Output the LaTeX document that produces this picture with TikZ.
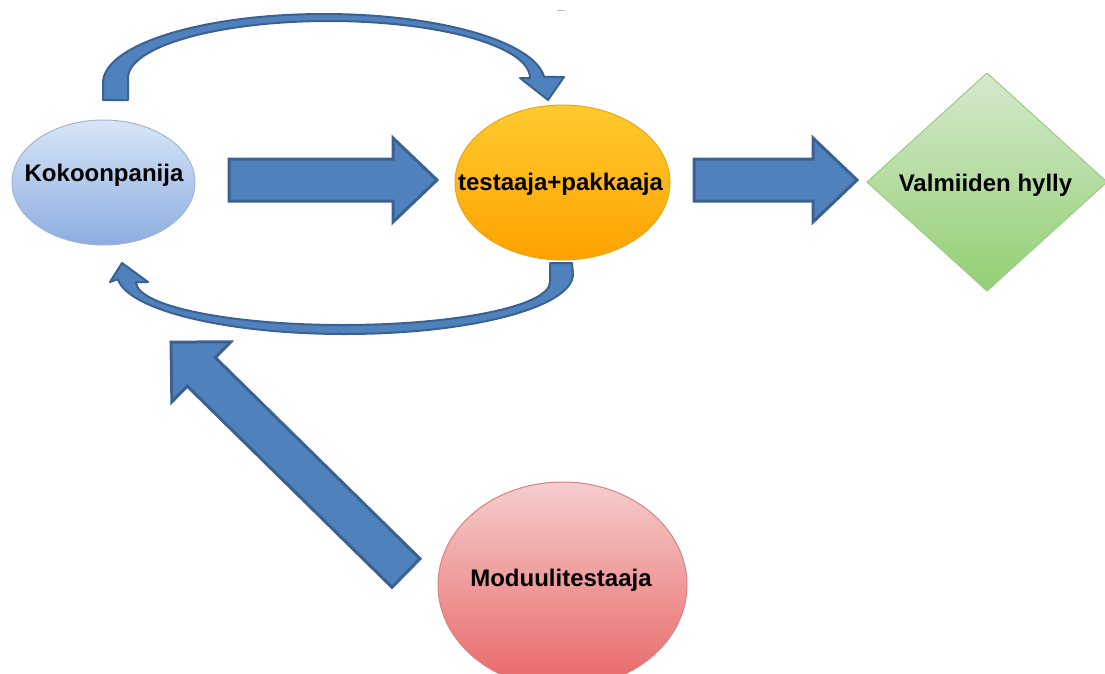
\documentclass[tikz,border=0pt]{standalone}
\usepackage{fontspec}
\setmainfont{Liberation Sans}
\usetikzlibrary{shapes.geometric}

\definecolor{arrowfill}{HTML}{4F81BD}
\definecolor{arrowline}{HTML}{3A6191}
\definecolor{kokoTop}{HTML}{D8E5F7}
\definecolor{kokoBot}{HTML}{8DADE0}
\definecolor{kokoLine}{HTML}{9DB6D8}
\definecolor{testTop}{HTML}{FFCB2E}
\definecolor{testBot}{HTML}{FFA200}
\definecolor{testLine}{HTML}{EBA514}
\definecolor{valTop}{HTML}{D6E9CE}
\definecolor{valBot}{HTML}{92CF72}
\definecolor{valLine}{HTML}{9CCB86}
\definecolor{modTop}{HTML}{F6CDCD}
\definecolor{modBot}{HTML}{E86666}
\definecolor{modLine}{HTML}{D98282}

\begin{document}
\begin{tikzpicture}[x=1pt,y=1pt,
  lbl/.style={font=\fontsize{24}{28}\selectfont\bfseries, anchor=base, inner sep=0pt},
  shapebox/.style={inner sep=0pt, outer sep=0pt, line width=1pt},
  blockarrow/.style={fill=arrowfill, draw=arrowline, line width=3pt, line join=miter},
  curvearrow/.style={fill=arrowfill, draw=arrowline, line width=2pt, line join=round}]

\useasboundingbox (0,0) rectangle (1105,-673);
\clip (0,0) rectangle (1105,-673);

% stations
\node[shapebox, ellipse, minimum width=183pt, minimum height=125pt,
      top color=kokoTop, bottom color=kokoBot, draw=kokoLine] (koko) at (103.5,-182.5) {};
\node[shapebox, ellipse, minimum width=215pt, minimum height=155pt,
      top color=testTop, bottom color=testBot, draw=testLine] (testaaja) at (562.5,-182.5) {};
\node[shapebox, diamond, minimum width=240pt, minimum height=218pt,
      top color=valTop, bottom color=valBot, draw=valLine] (valmiit) at (987,-182) {};
\node[shapebox, ellipse, minimum width=249pt, minimum height=206pt,
      top color=modTop, bottom color=modBot, draw=modLine] (moduuli) at (562.5,-585) {};

% labels
\node[lbl] (kokoLbl) at (104,-181) {Kokoonpanija};
\node[lbl] (testLbl) at (560.5,-190) {testaaja+pakkaaja};
\node[lbl] (valLbl) at (985.5,-191) {Valmiiden hylly};
\node[lbl] (modLbl) at (561,-586) {Moduulitestaaja};

% straight block arrows
\path[blockarrow] (229,-159) -- (393,-159) -- (393,-138) -- (437,-180)
  -- (393,-222) -- (393,-201) -- (229,-201) -- cycle;
\path[blockarrow] (694,-159) -- (813,-159) -- (813,-138) -- (857,-180)
  -- (813,-222) -- (813,-201) -- (694,-201) -- cycle;
\begin{scope}[shift={(406,-573)}, rotate=135.5]
  \path[blockarrow] (0,-20) -- (287,-20) -- (287,-42) -- (329.5,0)
    -- (287,42) -- (287,20) -- (0,20) -- cycle;
\end{scope}

% curved arrow over the top
\path[curvearrow] (103,-100) -- (103,-83)
  arc[start angle=180, end angle=5, x radius=221, y radius=69]
  -- (564,-77) -- (548,-100) -- (520,-78) -- (530,-78)
  arc[start angle=0, end angle=180, x radius=201, y radius=57]
  -- (128,-100) -- cycle;

% curved arrow underneath
\path[curvearrow] (572,-263) -- (573,-274)
  arc[start angle=0, end angle=-175, x radius=228, y radius=60]
  -- (110,-282) -- (122,-263) -- (148,-282) -- (136,-282)
  arc[start angle=180, end angle=360, x radius=207, y radius=43]
  -- (550,-263) -- cycle;

% small mark at the top edge
\draw[gray!55, line width=1pt] (557,-10.5) -- (565,-10.5);
\end{tikzpicture}
\end{document}
